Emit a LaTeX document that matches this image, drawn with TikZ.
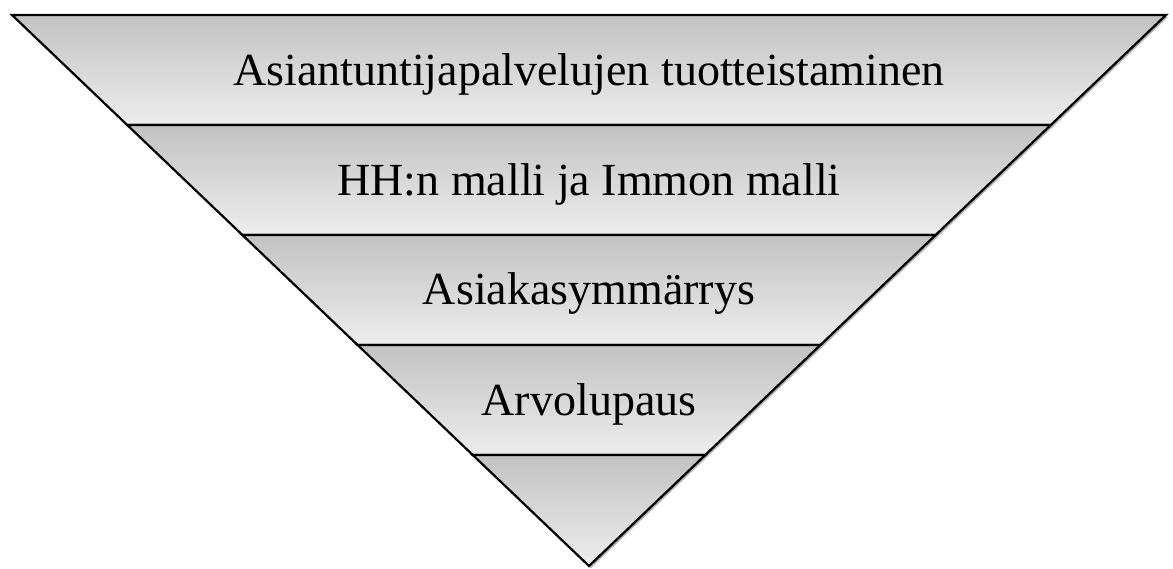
\documentclass[tikz,border=0pt]{standalone}
\usepackage{fontspec}
\setmainfont{Liberation Serif}
\usetikzlibrary{shadows,calc}
\begin{document}
\begin{tikzpicture}[x=1pt,y=-1pt,
  band/.style={top color=black!24, bottom color=black!7, draw=black, line width=2.2pt, line join=miter,
     drop shadow={shadow xshift=2pt, shadow yshift=-2pt, opacity=0.3, fill=black}},
  lbl/.style={font=\fontsize{46}{50}\selectfont, text=black, inner sep=0pt}]
\useasboundingbox (0,0) rectangle (1173,568);
% triangle geometry: top y=15, left x=12, right x=1166, apex (589,566)
\def\hw#1{1.04719*(566-#1)}
\foreach \ya/\yb in {15/125,125/235,235/345,345/455}{
  \path[band] ({589-\hw{\ya}},\ya) -- ({589+\hw{\ya}},\ya) -- ({589+\hw{\yb}},\yb) -- ({589-\hw{\yb}},\yb) -- cycle;
}
\path[band] ({589-\hw{455}},455) -- ({589+\hw{455}},455) -- (589,566) -- cycle;
\node[lbl] (t1) at (589,74) {Asiantuntijapalvelujen tuotteistaminen};
\node[lbl] (t2) at (589,184) {HH:n malli ja Immon malli};
\node[lbl] (t3) at (589,294) {Asiakasymmärrys};
\node[lbl] (t4) at (589,404) {Arvolupaus};
\end{tikzpicture}
\end{document}
